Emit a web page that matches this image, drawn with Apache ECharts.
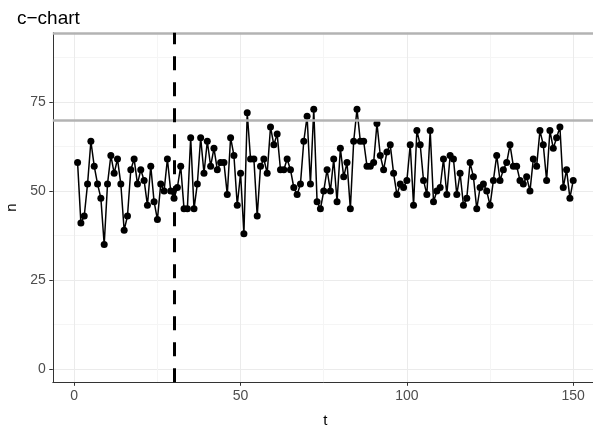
<!DOCTYPE html>
<html>
<head>
<meta charset="utf-8">
<script src="https://cdn.jsdelivr.net/npm/echarts@6/dist/echarts.min.js"></script>
<style>
  html, body { margin: 0; padding: 0; background: #fff; }
  #main { width: 593px; height: 427px; }
</style>
</head>
<body>
<div id="main"></div>
<script>
// counts per sample, t = 1..150
var n = [
  58, 41, 43, 52, 64, 57, 52, 48, 35, 52,
  60, 55, 59, 52, 39, 43, 56, 59, 52, 56,
  53, 46, 57, 47, 42, 52, 50, 59, 50, 48,
  51, 57, 45, 45, 65, 45, 52, 65, 55, 64,
  57, 62, 56, 58, 58, 49, 65, 60, 46, 55,
  38, 72, 59, 59, 43, 57, 59, 55, 68, 63,
  66, 56, 56, 59, 56, 51, 49, 52, 64, 71,
  52, 73, 47, 45, 50, 56, 50, 59, 47, 62,
  54, 58, 45, 64, 73, 64, 64, 57, 57, 58,
  69, 60, 56, 61, 63, 55, 49, 52, 51, 53,
  63, 46, 67, 63, 53, 49, 67, 47, 50, 51,
  59, 49, 60, 59, 49, 55, 46, 48, 58, 54,
  45, 51, 52, 50, 46, 53, 60, 53, 56, 58,
  63, 57, 57, 53, 52, 54, 50, 59, 57, 67,
  63, 53, 67, 62, 65, 68, 51, 56, 48, 53
];
var xTicks = [0, 50, 100, 150];
var xMinor = [25, 75, 125];
var yTicks = [0, 25, 50, 75];
var yMinor = [12.5, 37.5, 62.5, 87.5];
var limitLine = 70;    // grey horizontal line
var topLine = 94.4;    // grey line at panel top
var phaseBreak = 30;   // dashed vertical line

var points = n.map(function (v, i) { return [i + 1, v]; });

var font = 'Liberation Sans, Arial, sans-serif';
var xMin = -6.45, xMax = 157.45, yMin = -3.74, yMax = 94.5;

var myChart = echarts.init(document.getElementById('main'));
var option = {
  animation: false,
  title: {
    text: 'c\u2212chart',
    left: 12, top: 4,
    textStyle: { fontFamily: font, fontSize: 19, fontWeight: 'normal', color: '#000' }
  },
  grid: { left: 52.8, right: -5, top: 32.7, bottom: 44.7, containLabel: false, outerBoundsMode: 'none' },
  xAxis: [{
    type: 'value', min: xMin, max: xMax,
    name: 't', nameLocation: 'middle', nameGap: 31,
    nameTextStyle: { fontFamily: font, fontSize: 15, color: '#000' },
    axisLine: { show: true, onZero: false, lineStyle: { color: '#333', width: 1 } },
    axisTick: { show: true, length: 3.5, customValues: xTicks, lineStyle: { color: '#333' } },
    axisLabel: { customValues: xTicks, margin: 7, fontFamily: font, fontSize: 14, color: '#4d4d4d' },
    splitLine: { show: true, lineStyle: { color: '#ebebeb', width: 1 } }
  }, {
    type: 'value', min: xMin, max: xMax, position: 'bottom',
    axisLine: { show: false, onZero: false },
    axisTick: { show: false, customValues: xMinor },
    axisLabel: { show: false, customValues: xMinor },
    splitLine: { show: true, lineStyle: { color: '#f5f5f5', width: 1 } }
  }],
  yAxis: [{
    type: 'value', min: yMin, max: yMax,
    name: 'n', nameLocation: 'middle', nameGap: 26, nameRotate: 90,
    nameTextStyle: { fontFamily: font, fontSize: 15, color: '#000' },
    axisLine: { show: true, onZero: false, lineStyle: { color: '#333', width: 1 } },
    axisTick: { show: true, length: 3.5, customValues: yTicks, lineStyle: { color: '#333' } },
    axisLabel: { customValues: yTicks, margin: 7, fontFamily: font, fontSize: 14, color: '#4d4d4d' },
    splitLine: { show: true, lineStyle: { color: '#ebebeb', width: 1 } }
  }, {
    type: 'value', min: yMin, max: yMax, position: 'left',
    axisLine: { show: false, onZero: false },
    axisTick: { show: false, customValues: yMinor },
    axisLabel: { show: false, customValues: yMinor },
    splitLine: { show: true, lineStyle: { color: '#f5f5f5', width: 1 } }
  }],
  series: [{
    type: 'line',
    data: points,
    symbol: 'circle',
    symbolSize: 7,
    showSymbol: true,
    itemStyle: { color: '#000' },
    lineStyle: { color: '#000', width: 1.5 },
    z: 3,
    markLine: {
      silent: true,
      symbol: ['none', 'none'],
      label: { show: false },
      animation: false,
      data: [
        { yAxis: limitLine, lineStyle: { color: '#b3b3b3', width: 2.5, type: 'solid' } },
        { yAxis: topLine, lineStyle: { color: '#b3b3b3', width: 2.5, type: 'solid' } },
        { xAxis: phaseBreak, lineStyle: { color: '#000', width: 3, type: [14, 12] } }
      ]
    }
  }]
};
myChart.setOption(option);
</script>
</body>
</html>
